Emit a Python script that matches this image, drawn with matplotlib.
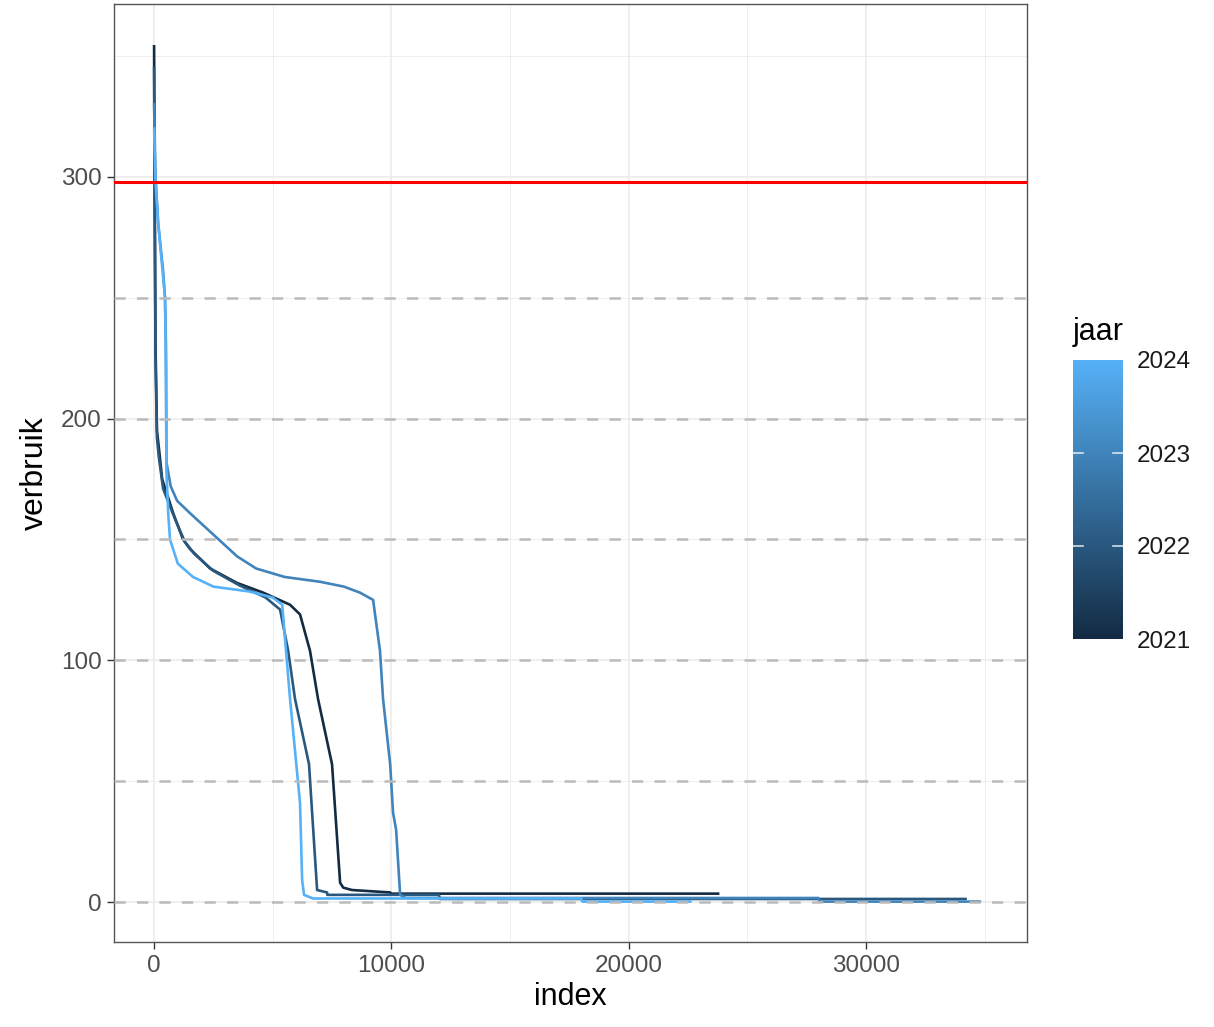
import numpy as np
import matplotlib.pyplot as plt
from matplotlib.colors import LinearSegmentedColormap

plt.rcParams['font.family'] = ['Liberation Sans', 'DejaVu Sans']

# jaren en gesorteerd verbruik per index
years = [2021, 2022, 2023, 2024]

idx_2021 = [0, 20, 60, 120, 200, 340, 800, 1220, 1520, 2360, 3500, 4600, 5730, 6150,
            6570, 6910, 7500, 7840, 7970, 8340, 9950, 10000, 23770]
val_2021 = [354, 300, 230, 195, 188, 175, 161, 150, 146, 138, 132, 128, 123, 119,
            104, 84, 57, 8, 6, 5, 4, 3.5, 3.5]

idx_2022 = [0, 20, 60, 120, 200, 380, 900, 1300, 1700, 2500, 3600, 4700, 5310,
            5650, 5940, 6530, 6660, 6870, 7290, 7300, 12000, 12050, 34200]
val_2022 = [345, 300, 225, 192, 184, 171, 158, 149, 144, 137, 131, 126, 121,
            104, 84, 57, 37, 5, 4, 3, 3, 1.3, 1.3]

idx_2023 = [0, 60, 170, 380, 460, 500, 520, 700, 970, 1500, 2500, 3500, 4300, 5500,
            7000, 8000, 8680, 9230, 9520, 9650, 9950, 10070, 10200, 10370, 10600,
            28000, 28050, 34800]
val_2023 = [330, 300, 281, 261, 250, 230, 182, 172, 166, 161, 152, 143, 138, 134.5,
            132.5, 130.5, 128, 125, 104, 84, 57, 37, 30, 3, 1.7, 1.7, 0.2, 0.2]

idx_2024 = [0, 60, 170, 460, 500, 520, 600, 670, 1000, 1640, 2500, 4000, 5000, 5400,
            5560, 5730, 6150, 6240, 6320, 6700, 18000, 18050, 22600]
val_2024 = [320, 298, 281, 250, 220, 178, 160, 150, 140, 134.5, 130.5, 128.5, 126, 123,
            104, 84, 41, 9, 3, 1.5, 1.5, 0.2, 0.2]

series_idx = [idx_2021, idx_2022, idx_2023, idx_2024]
series_val = [val_2021, val_2022, val_2023, val_2024]

limiet = 298
hulplijnen = [0, 50, 100, 150, 200, 250]

cmap = LinearSegmentedColormap.from_list('gg', ['#132B43', '#56B1F7'])
norm = plt.Normalize(min(years), max(years))

W, H = 1214, 1027
fig = plt.figure(figsize=(W / 100, H / 100), dpi=100)
ax = fig.add_axes([114 / W, 1 - 942 / H, (1027 - 114) / W, (942 - 4) / H])

for yr, xs, ys in zip(years, series_idx, series_val):
    ax.plot(xs, ys, color=cmap(norm(yr)), lw=1.9, zorder=3)

for h in hulplijnen:
    ax.axhline(h, color='#BBBBBB', lw=1.8, dashes=(4.5, 4.5), zorder=4)
ax.axhline(limiet, color='#FF0000', lw=2.2, zorder=5)

ax.set_xlim(-1690, 36790)
ax.set_ylim(-16.5, 371.5)
ax.set_xticks([0, 10000, 20000, 30000])
ax.set_xticks([5000, 15000, 25000, 35000], minor=True)
ax.set_yticks([0, 100, 200, 300])
ax.set_yticks([50, 150, 250, 350], minor=True)
ax.grid(which='major', color='#EBEBEB', lw=1.1, zorder=0)
ax.grid(which='minor', color='#EBEBEB', lw=0.6, zorder=0)
ax.set_axisbelow(True)
for s in ax.spines.values():
    s.set_color('#555555')
    s.set_linewidth(1.0)
ax.tick_params(which='major', length=5, width=1.0, color='#333333',
               labelsize=17.5, labelcolor='#4D4D4D', pad=4)
ax.tick_params(which='minor', length=0)
ax.set_xlabel('index', fontsize=22, labelpad=4)
ax.set_ylabel('verbruik', fontsize=23, labelpad=8)

# kleurenbalk legenda
cax = fig.add_axes([1073 / W, 1 - 639 / H, 50 / W, 279 / H])
grad = np.linspace(min(years), max(years), 256).reshape(-1, 1)
cax.imshow(grad, cmap=cmap, norm=norm, aspect='auto', origin='lower',
           extent=[0, 1, min(years), max(years)])
cax.set_xlim(0, 1)
cax.set_ylim(min(years), max(years))
cax.set_xticks([])
cax.yaxis.tick_right()
cax.set_yticks(years)
cax.set_yticklabels([str(y) for y in years])
cax.tick_params(axis='y', length=0, labelsize=17.5, labelcolor='#1A1A1A', pad=10)
for yr in years[1:-1]:
    cax.plot([0, 0.2], [yr, yr], color='white', lw=1.2, alpha=0.8)
    cax.plot([0.8, 1], [yr, yr], color='white', lw=1.2, alpha=0.8)
for s in cax.spines.values():
    s.set_visible(False)
fig.text(1073 / W, 1 - 340 / H, 'jaar', fontsize=22, ha='left', va='baseline')

fig.savefig('out.png', dpi=100)
